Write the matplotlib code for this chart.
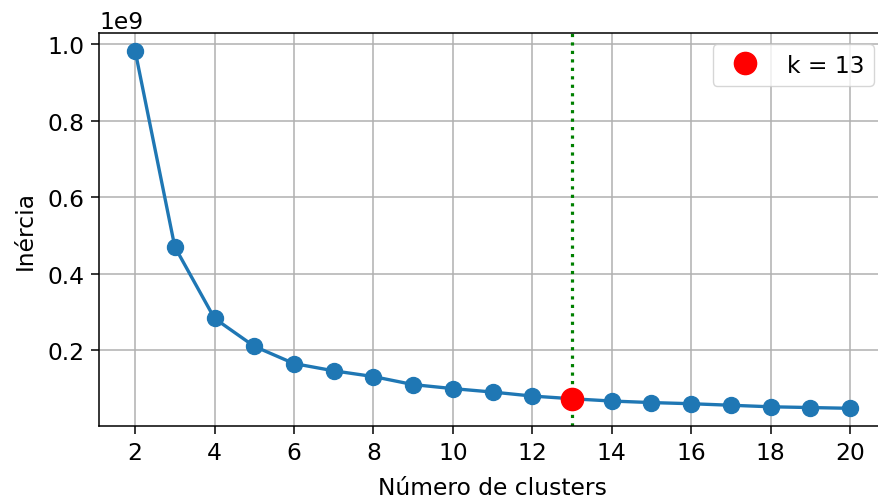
import numpy as np
import matplotlib
matplotlib.use("Agg")
import matplotlib.pyplot as plt

# numero de clusters e inercia (KMeans, metodo do cotovelo)
ks = list(range(2, 21))
inercia = [0.983e9, 0.470e9, 0.283e9, 0.210e9, 0.165e9, 0.146e9, 0.131e9,
           0.110e9, 0.0995e9, 0.0905e9, 0.080e9, 0.073e9, 0.067e9, 0.063e9,
           0.060e9, 0.056e9, 0.052e9, 0.050e9, 0.048e9]
k_best = 13

plt.rcParams['font.size'] = 16.8

fig = plt.figure(figsize=(8.79, 5.02), dpi=100)
ax = fig.add_axes([0.113, 0.149, 0.8947, 0.784])

ax.plot(ks, inercia, '-o', color='#1f77b4', lw=2.4, ms=11.5, zorder=3)
ax.axvline(k_best, color='green', ls=':', lw=2.3, zorder=2)
ax.plot(k_best, inercia[ks.index(k_best)], 'o', color='red', ms=16,
        label='k = %d' % k_best, zorder=4)

ax.set_xticks(range(2, 21, 2))
ax.set_xlabel('Número de clusters', labelpad=9)
ax.set_ylabel('Inércia', labelpad=8)
ax.tick_params(width=1.1, length=6, pad=4.5)
for s in ax.spines.values():
    s.set_linewidth(1.1)
ax.grid(True, color='#b0b0b0', lw=1.1)
ax.set_axisbelow(True)
ax.legend(loc='upper right')

fig.savefig('out.png', dpi=100)
